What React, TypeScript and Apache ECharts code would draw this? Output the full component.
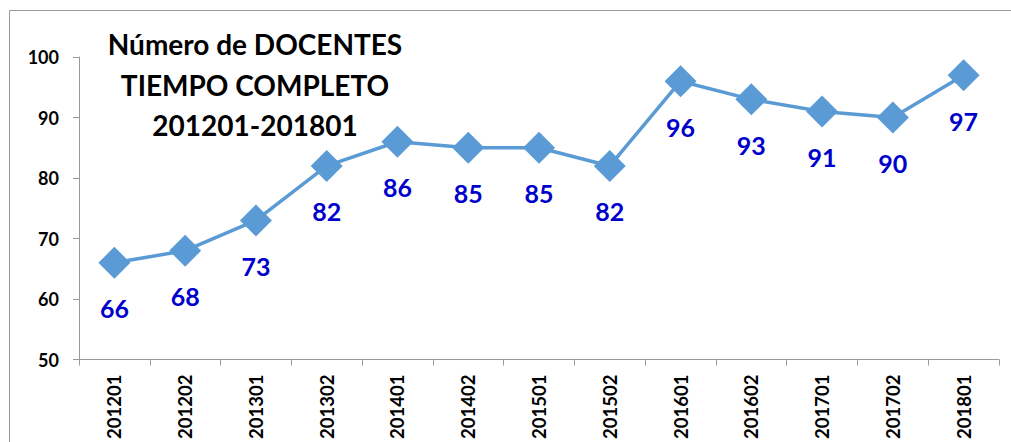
import React, { useEffect, useRef } from "react";
import * as echarts from "echarts";

const categories = ["201201", "201202", "201301", "201302", "201401", "201402", "201501", "201502", "201601", "201602", "201701", "201702", "201801"];
const values = [66, 68, 73, 82, 86, 85, 85, 82, 96, 93, 91, 90, 97];
const titleLines = ["Número de DOCENTES", "TIEMPO COMPLETO", "201201-201801"];

const FONT = "Lato, 'Open Sans', sans-serif";

export default function App() {
  const ref = useRef<HTMLDivElement>(null);
  useEffect(() => {
    const chart = echarts.init(ref.current!, null, { renderer: "svg" });
    chart.setOption({
      animation: false,
      backgroundColor: "#ffffff",
      textStyle: { fontFamily: FONT },
      graphic: [
        {
          type: "rect",
          shape: { x: 9.5, y: 10.5, width: 1010, height: 440 },
          style: { fill: "none", stroke: "#9a9a9a", lineWidth: 1 },
          z: -1,
        },
        {
          type: "text",
          x: 255,
          y: 24,
          style: {
            text: titleLines.join("\n"),
            fontFamily: FONT,
            fontWeight: "bold",
            fontSize: 28,
            lineHeight: 40.5,
            fill: "#000",
            align: "center",
            verticalAlign: "top",
          },
          z: 10,
        },
      ],
      grid: { left: 79, right: 12, top: 57, bottom: 82 },
      xAxis: {
        type: "category",
        data: categories,
        boundaryGap: true,
        axisLine: { lineStyle: { color: "#9a9a9a", width: 1 } },
        axisTick: { show: true, alignWithLabel: false, length: 6, lineStyle: { color: "#9a9a9a" } },
        axisLabel: {
          rotate: 90,
          interval: 0,
          margin: 15,
          color: "#000",
          fontWeight: "bold",
          fontSize: 18.5,
          fontFamily: FONT,
        },
        splitLine: { show: false },
      },
      yAxis: {
        type: "value",
        min: 50,
        max: 100,
        interval: 10,
        axisLine: { show: true, lineStyle: { color: "#9a9a9a", width: 1 } },
        axisTick: { show: true, length: 6, lineStyle: { color: "#9a9a9a" } },
        axisLabel: {
          color: "#000",
          fontWeight: "bold",
          fontSize: 18,
          margin: 20,
          fontFamily: FONT,
        },
        splitLine: { show: false },
      },
      series: [
        {
          type: "line",
          data: values,
          symbol: "diamond",
          symbolSize: 32,
          lineStyle: { color: "#5B9BD5", width: 3.5 },
          itemStyle: { color: "#5B9BD5" },
          label: {
            show: true,
            position: "bottom",
            distance: 17,
            color: "#0000CC",
            fontWeight: "bold",
            fontSize: 25,
            fontFamily: FONT,
          },
        },
      ],
    });
    return () => chart.dispose();
  }, []);
  return <div ref={ref} style={{ position: "fixed", left: 0, top: 0, width: 1011, height: 442 }} />;
}
